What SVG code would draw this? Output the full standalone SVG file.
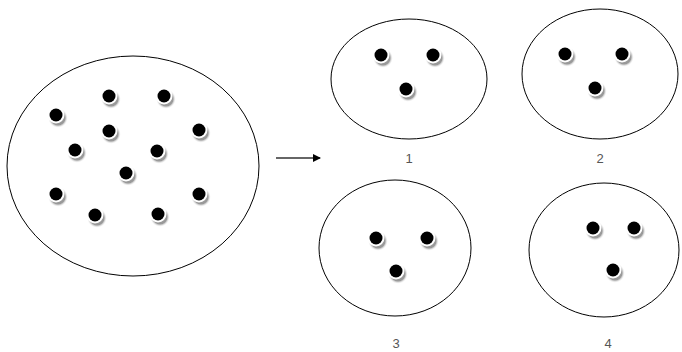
<svg xmlns="http://www.w3.org/2000/svg" width="682" height="352" viewBox="0 0 682 352">
<defs>
<style>
.set{fill:#fff;stroke:#000;stroke-width:1}
.lbl{font-family:"Liberation Sans",Arial,sans-serif;font-size:13px;fill:#555;text-anchor:middle}
</style>
<radialGradient id="sh" cx="0.5" cy="0.5" r="0.5">
<stop offset="0.7" stop-color="#999"/>
<stop offset="1" stop-color="#fff" stop-opacity="0"/>
</radialGradient>
<g id="dot">
<circle cx="2" cy="3" r="10" fill="url(#sh)"/>
<circle cx="0" cy="0" r="8.5" fill="#fff"/>
<circle cx="0" cy="0" r="6.5" fill="#000"/>
</g>
<marker id="ah" markerWidth="8" markerHeight="8" refX="7" refY="4" orient="auto" markerUnits="userSpaceOnUse">
<path d="M0,0 L8,4 L0,8 Z" fill="#000"/>
</marker>
</defs>
<rect width="682" height="352" fill="#fff"/>
<g id="big">
<ellipse class="set" cx="133" cy="166" rx="126" ry="110"/>
<use href="#dot" x="56" y="115"/><use href="#dot" x="109" y="96"/><use href="#dot" x="164" y="96"/>
<use href="#dot" x="109" y="131"/><use href="#dot" x="75" y="150"/><use href="#dot" x="199" y="130"/>
<use href="#dot" x="157" y="151"/><use href="#dot" x="126" y="173"/><use href="#dot" x="56" y="194"/>
<use href="#dot" x="95" y="215"/><use href="#dot" x="158" y="214"/><use href="#dot" x="199" y="194"/>
</g>
<g id="connectors">
<line x1="276" y1="158" x2="320" y2="158" stroke="#333" stroke-width="1.5" marker-end="url(#ah)"/>
</g>
<g id="set1">
<ellipse class="set" cx="409" cy="79" rx="78" ry="60"/>
<use href="#dot" x="381" y="55"/><use href="#dot" x="433" y="55"/><use href="#dot" x="406" y="89"/>
<text class="lbl" x="409" y="163">1</text>
</g>
<g id="set2">
<ellipse class="set" cx="600" cy="74" rx="78" ry="65"/>
<use href="#dot" x="565" y="54"/><use href="#dot" x="622" y="54"/><use href="#dot" x="595" y="88"/>
<text class="lbl" x="600" y="163">2</text>
</g>
<g id="set3">
<ellipse class="set" cx="395" cy="248" rx="76" ry="68"/>
<use href="#dot" x="376" y="238"/><use href="#dot" x="427" y="238"/><use href="#dot" x="396" y="271"/>
<text class="lbl" x="396" y="348">3</text>
</g>
<g id="set4">
<ellipse class="set" cx="604" cy="250" rx="75" ry="67"/>
<use href="#dot" x="593" y="228"/><use href="#dot" x="634" y="228"/><use href="#dot" x="613" y="270"/>
<text class="lbl" x="608" y="348">4</text>
</g>
</svg>
